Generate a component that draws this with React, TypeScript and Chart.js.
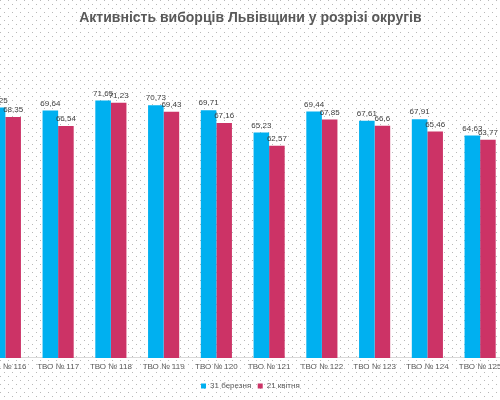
import React, { useEffect, useRef } from 'react';
import Chart from 'chart.js/auto';

const districts = [
  'ТВО № 116', 'ТВО № 117', 'ТВО № 118', 'ТВО № 119', 'ТВО № 120',
  'ТВО № 121', 'ТВО № 122', 'ТВО № 123', 'ТВО № 124', 'ТВО № 125',
];
const march31 = [70.25, 69.64, 71.65, 70.73, 69.71, 65.23, 69.44, 67.61, 67.91, 64.63];
const april21 = [68.35, 66.54, 71.23, 69.43, 67.16, 62.57, 67.85, 66.6, 65.46, 63.77];

const dots =
  "url(\"data:image/svg+xml,%3Csvg xmlns='http://www.w3.org/2000/svg' width='8' height='8'%3E" +
  "%3Crect x='0' y='0' width='1' height='1' fill='%23b8b8b8'/%3E" +
  "%3Crect x='4' y='4' width='1' height='1' fill='%23b8b8b8'/%3E%3C/svg%3E\")";

// values above the bars, like Excel data labels
const valueLabels = {
  id: 'valueLabels',
  afterDatasetsDraw(chart: any) {
    const { ctx } = chart;
    ctx.save();
    ctx.font = '8px "Liberation Sans", sans-serif';
    ctx.fillStyle = '#404040';
    ctx.textAlign = 'center';
    ctx.textBaseline = 'bottom';
    chart.data.datasets.forEach((ds: any, i: number) => {
      chart.getDatasetMeta(i).data.forEach((bar: any, j: number) => {
        ctx.fillText(String(ds.data[j]).replace('.', ','), bar.x, bar.y - 3);
      });
    });
    ctx.restore();
  },
};

const TurnoutChart: React.FC = () => {
  const chartRef = useRef<HTMLCanvasElement>(null);

  useEffect(() => {
    if (!chartRef.current) return;

    const chart = new Chart(chartRef.current, {
      type: 'bar',
      data: {
        labels: districts,
        datasets: [
          { label: '31 березня', data: march31, backgroundColor: '#00B0F0' },
          { label: '21 квітня', data: april21, backgroundColor: '#CC3366' },
        ],
      },
      options: {
        animation: false,
        responsive: true,
        maintainAspectRatio: false,
        datasets: { bar: { categoryPercentage: 0.59, barPercentage: 1 } },
        layout: { padding: 0 },
        plugins: {
          title: {
            display: true,
            text: 'Активність виборців Львівщини у розрізі округів',
            color: '#595959',
            font: { family: '"Liberation Sans", sans-serif', size: 14, weight: 'bold' },
            padding: { top: 9.6, bottom: 32.6 },
          },
          legend: {
            position: 'bottom',
            labels: {
              boxWidth: 5,
              boxHeight: 5,
              color: '#595959',
              font: { family: '"Liberation Sans", sans-serif', size: 8 },
              padding: 6.5,
            },
          },
          tooltip: { enabled: false },
        },
        scales: {
          x: {
            grid: { display: false, drawTicks: false },
            border: { display: true, color: '#d9d9d9' },
            ticks: {
              color: '#595959',
              font: { family: '"Liberation Sans", sans-serif', size: 8 },
              padding: 4,
              maxRotation: 0,
              autoSkip: false,
            },
          },
          y: {
            position: 'right',
            min: 20,
            max: 80,
            ticks: { display: false, stepSize: 50 },
            border: { display: false },
            grid: {
              drawTicks: false,
              color: (c: any) => (c.tick && c.tick.value === 70 ? '#d0d0d0' : 'transparent'),
            },
            afterFit: (scale: any) => {
              scale.width = 15.3;
            },
          },
        },
      },
      plugins: [valueLabels],
    });

    return () => chart.destroy();
  }, []);

  return (
    <div style={{ position: 'fixed', inset: 0, background: '#fff', backgroundImage: dots, overflow: 'hidden' }}>
      <div style={{ position: 'absolute', left: -21.4, top: 0, width: 542.8, height: 400 }}>
        <canvas ref={chartRef}></canvas>
      </div>
    </div>
  );
};

export default function App() {
  return <TurnoutChart />;
}
